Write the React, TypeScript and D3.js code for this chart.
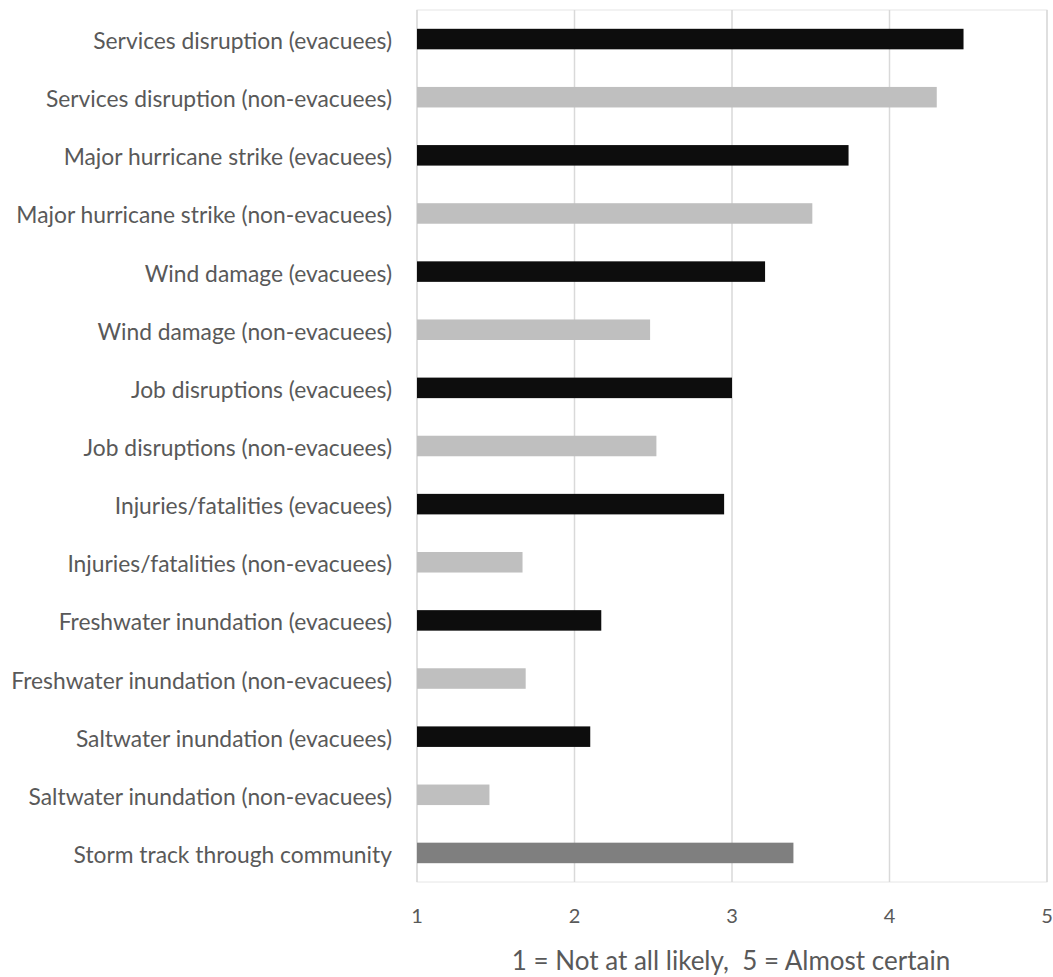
import React from "react";
import * as d3 from "d3";

// Likelihood ratings per outcome (1 = Not at all likely, 5 = Almost certain)
const categories: string[] = [
  "Services disruption (evacuees)",
  "Services disruption (non-evacuees)",
  "Major hurricane strike (evacuees)",
  "Major hurricane strike (non-evacuees)",
  "Wind damage (evacuees)",
  "Wind damage (non-evacuees)",
  "Job disruptions (evacuees)",
  "Job disruptions (non-evacuees)",
  "Injuries/fatalities (evacuees)",
  "Injuries/fatalities (non-evacuees)",
  "Freshwater inundation (evacuees)",
  "Freshwater inundation (non-evacuees)",
  "Saltwater inundation (evacuees)",
  "Saltwater inundation (non-evacuees)",
  "Storm track through community",
];

const values: number[] = [
  4.47, 4.3, 3.74, 3.51, 3.21, 2.48, 3.0, 2.52, 2.95, 1.67, 2.17, 1.69, 2.1, 1.46, 3.39,
];

// group: evacuees, non-evacuees, or overall
const groups: string[] = [
  "evac", "non", "evac", "non", "evac", "non", "evac", "non",
  "evac", "non", "evac", "non", "evac", "non", "all",
];

const xTicks: number[] = [1, 2, 3, 4, 5];
const axisTitle = "1 = Not at all likely,  5 = Almost certain";

const groupColor: Record<string, string> = {
  evac: "#0d0d0d",
  non: "#bfbfbf",
  all: "#7f7f7f",
};

const W = 1053;
const H = 977;
const margin = { left: 417, right: 6, top: 10, bottom: 95 };
const FONT = "Lato, 'Open Sans', sans-serif";

export default function App() {
  const x = d3.scaleLinear().domain([1, 5]).range([margin.left, W - margin.right]);
  const y = d3
    .scaleBand<string>()
    .domain(categories)
    .range([margin.top, H - margin.bottom])
    .paddingInner(0.647)
    .paddingOuter(0.3235);
  const plotBottom = H - margin.bottom;

  return (
    <svg
      width={W}
      height={H}
      style={{ position: "absolute", left: 0, top: 0, background: "#fff" }}
      fontFamily={FONT}
    >
      {/* plot area frame */}
      <rect
        x={x(1)}
        y={margin.top}
        width={x(5) - x(1)}
        height={plotBottom - margin.top}
        fill="none"
        stroke="#e6e6e6"
        strokeWidth={1}
      />
      {/* vertical gridlines */}
      {xTicks.map((t) => (
        <line
          key={`g${t}`}
          x1={x(t)}
          x2={x(t)}
          y1={margin.top}
          y2={plotBottom}
          stroke="#d9d9d9"
          strokeWidth={1.5}
        />
      ))}
      {/* bars */}
      {categories.map((c, i) => (
        <rect
          key={c}
          x={x(1)}
          y={y(c)}
          width={x(values[i]) - x(1)}
          height={y.bandwidth()}
          fill={groupColor[groups[i]]}
        />
      ))}
      {/* category labels */}
      {categories.map((c) => (
        <text
          key={`l${c}`}
          x={392}
          y={(y(c) as number) + y.bandwidth() / 2 + 1}
          textAnchor="end"
          dominantBaseline="central"
          fontSize={22.8}
          fill="#595959"
        >
          {c}
        </text>
      ))}
      {/* x tick labels */}
      {xTicks.map((t) => (
        <text
          key={`t${t}`}
          x={x(t)}
          y={923}
          textAnchor="middle"
          fontSize={20}
          fill="#595959"
        >
          {t}
        </text>
      ))}
      <text
        x={731}
        y={970}
        textAnchor="middle"
        fontSize={26}
        fill="#595959"
        style={{ whiteSpace: "pre" }}
      >
        {axisTitle}
      </text>
    </svg>
  );
}
